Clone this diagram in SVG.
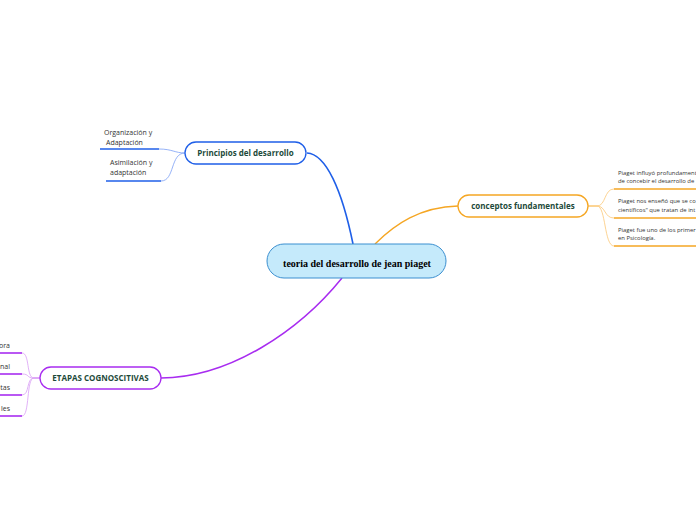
<svg xmlns="http://www.w3.org/2000/svg" width="696" height="520" viewBox="0 0 696 520">
<style>
.lbl{font-family:"Open Sans","Noto Sans",sans-serif;font-weight:bold;font-size:8px;fill:#1d4a3a;text-anchor:middle}
.sub{font-family:"Open Sans","Noto Sans",sans-serif;font-size:7px;fill:#333}
.sm{font-family:"Open Sans","Noto Sans",sans-serif;font-size:5.9px;fill:#333}
.node{fill:#fff;stroke-width:1.3}
</style>
<rect width="696" height="520" fill="#fff"/>
<g id="connectors" fill="none">
<path d="M307,153 C326,154 342,190 353,244" stroke="#1f5fe8" stroke-width="1.6"/>
<path d="M375,244 C395,224 420,207 458,206" stroke="#f5a623" stroke-width="1.4"/>
<path d="M342,278 C300,330 230,378 161,378" stroke="#a82cf0" stroke-width="1.5"/>
<path d="M185,153 C175,153 172,149 159,149" stroke="#7a9ef5" stroke-width="0.8"/>
<path d="M185,153 C170,153 175,181 161,181" stroke="#7a9ef5" stroke-width="0.8"/>
<path d="M588,206 L597,206 C606,206 604,189 614,189" stroke="#fbc877" stroke-width="0.8"/>
<path d="M588,206 L597,206 C606,206 604,218 614,218" stroke="#fbc877" stroke-width="0.8"/>
<path d="M588,206 L597,206 C606,206 604,246 614,246" stroke="#fbc877" stroke-width="0.8"/>
<path d="M40,378 L34,378 C26,378 30,353 22,353" stroke="#d9a0f5" stroke-width="0.8"/>
<path d="M40,378 L34,378 C26,378 30,374 22,374" stroke="#d9a0f5" stroke-width="0.8"/>
<path d="M40,378 L34,378 C26,378 30,395 22,395" stroke="#d9a0f5" stroke-width="0.8"/>
<path d="M40,378 L34,378 C26,378 30,416 22,416" stroke="#d9a0f5" stroke-width="0.8"/>
</g>
<g id="central">
<rect x="267" y="244" width="179" height="34" rx="17" fill="#c5eafb" stroke="#3b8fd0" stroke-width="1"/>
<text x="357" y="267" font-family="'Liberation Serif',serif" font-weight="bold" font-size="10" fill="#000" text-anchor="middle">teoria del desarrollo de jean piaget</text>
</g>
<g id="principios">
<rect class="node" x="185" y="142" width="121" height="22" rx="11" stroke="#1f5fe8"/>
<text class="lbl" x="245.5" y="156">Principios del desarrollo</text>
</g>
<g id="organizacion">
<text class="sub" x="104" y="135">Organización y</text>
<text class="sub" x="106" y="145">Adaptación</text>
<line x1="100" y1="149" x2="159" y2="149" stroke="#1f5fe8" stroke-width="1.6"/>
</g>
<g id="asimilacion">
<text class="sub" x="110" y="165">Asimilación y</text>
<text class="sub" x="110" y="175">adaptación</text>
<line x1="106" y1="181" x2="161" y2="181" stroke="#1f5fe8" stroke-width="1.6"/>
</g>
<g id="conceptos">
<rect class="node" x="458" y="195" width="130" height="22" rx="11" stroke="#f5a623"/>
<text class="lbl" x="523" y="209">conceptos fundamentales</text>
</g>
<g id="c1">
<text class="sm" x="618" y="175">Piaget influyó profundament</text>
<text class="sm" x="618" y="183">de concebir el desarrollo de</text>
<line x1="614" y1="189" x2="696" y2="189" stroke="#f5a623" stroke-width="1.6"/>
</g>
<g id="c2">
<text class="sm" x="618" y="203">Piaget nos enseñó que se co</text>
<text class="sm" x="618" y="212">científicos" que tratan de int</text>
<line x1="614" y1="218" x2="696" y2="218" stroke="#f5a623" stroke-width="1.6"/>
</g>
<g id="c3">
<text class="sm" x="618" y="232">Piaget fue uno de los primer</text>
<text class="sm" x="618" y="240">en Psicología.</text>
<line x1="614" y1="246" x2="696" y2="246" stroke="#f5a623" stroke-width="1.6"/>
</g>
<g id="etapas">
<rect class="node" x="40" y="367" width="121" height="22" rx="11" stroke="#a82cf0"/>
<text class="lbl" x="100.5" y="381">ETAPAS COGNOSCITIVAS</text>
</g>
<g id="e1"><text class="sub" x="10" y="348" text-anchor="end">ora</text><line x1="0" y1="353" x2="22" y2="353" stroke="#a82cf0" stroke-width="1.6"/></g>
<g id="e2"><text class="sub" x="10" y="369" text-anchor="end">nal</text><line x1="0" y1="374" x2="22" y2="374" stroke="#a82cf0" stroke-width="1.6"/></g>
<g id="e3"><text class="sub" x="10" y="390" text-anchor="end">tas</text><line x1="0" y1="395" x2="22" y2="395" stroke="#a82cf0" stroke-width="1.6"/></g>
<g id="e4"><text class="sub" x="10" y="411" text-anchor="end">les</text><line x1="0" y1="416" x2="22" y2="416" stroke="#a82cf0" stroke-width="1.6"/></g>
</svg>
